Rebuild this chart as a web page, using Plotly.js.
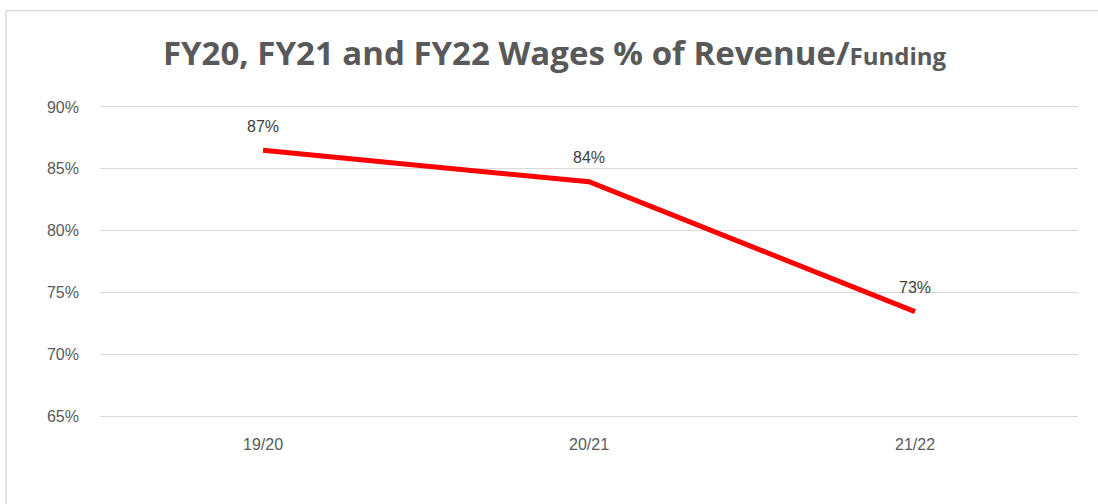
<!DOCTYPE html>
<html>
<head>
<meta charset="utf-8">
<script src="https://cdn.plot.ly/plotly-3.0.1.min.js"></script>
<style>
html,body{margin:0;padding:0;background:#fff;}
#chart{width:1098px;height:504px;}
</style>
</head>
<body>
<div id="chart"></div>
<script>
const categories = ["19/20", "20/21", "21/22"];
const wagesPct = [86.5, 83.95, 73.45];
const dataLabels = ["87%", "84%", "73%"];
const yTicks = [65, 70, 75, 80, 85, 90];
const yTickLabels = ["65%", "70%", "75%", "80%", "85%", "90%"];

const trace = {
  x: categories,
  y: wagesPct,
  type: "scatter",
  mode: "lines",
  line: {color: "#FF0000", width: 5},
  hoverinfo: "none"
};

const labelAnnotations = categories.map((c, i) => ({
  x: c,
  y: wagesPct[i],
  xref: "x",
  yref: "y",
  text: dataLabels[i],
  showarrow: false,
  yshift: 24,
  font: {family: "Liberation Sans, Arial, sans-serif", size: 16, color: "#404040"}
}));

const layout = {
  width: 1098,
  height: 504,
  margin: {l: 100, r: 20, t: 107, b: 88},
  paper_bgcolor: "#ffffff",
  plot_bgcolor: "#ffffff",
  showlegend: false,
  title: {
    text: "<b>FY20, FY21 and FY22 Wages % of Revenue/<span style='font-size:24px'>Funding</span></b>",
    font: {family: "Open Sans, Liberation Sans, sans-serif", size: 33, color: "#595959"},
    x: 0.505, xanchor: "center",
    y: 0.893, yanchor: "middle"
  },
  xaxis: {
    type: "category",
    range: [-0.5, 2.5],
    showgrid: false,
    zeroline: false,
    showline: true,
    mirror: true,
    linecolor: "#d9d9d9",
    linewidth: 1,
    ticks: "",
    ticklabelstandoff: 14,
    tickfont: {family: "Liberation Sans, Arial, sans-serif", size: 16, color: "#595959"},
    fixedrange: true
  },
  yaxis: {
    range: [65, 90],
    tickvals: yTicks,
    ticktext: yTickLabels,
    showgrid: true,
    gridcolor: "#d9d9d9",
    gridwidth: 1,
    zeroline: false,
    showline: false,
    ticks: "",
    ticklabelstandoff: 20,
    tickfont: {family: "Liberation Sans, Arial, sans-serif", size: 16, color: "#595959"},
    fixedrange: true
  },
  annotations: labelAnnotations,
  shapes: [
    {type: "line", xref: "paper", yref: "paper", x0: -0.0961, x1: -0.0961, y0: 1.312, y1: -0.3, line: {color: "#d9d9d9", width: 1.5}},
    {type: "line", xref: "paper", yref: "paper", x0: -0.0961, x1: 1.03, y0: 1.312, y1: 1.312, line: {color: "#d9d9d9", width: 1.5}}
  ]
};

Plotly.newPlot("chart", [trace], layout, {displayModeBar: false, staticPlot: true});
</script>
</body>
</html>
